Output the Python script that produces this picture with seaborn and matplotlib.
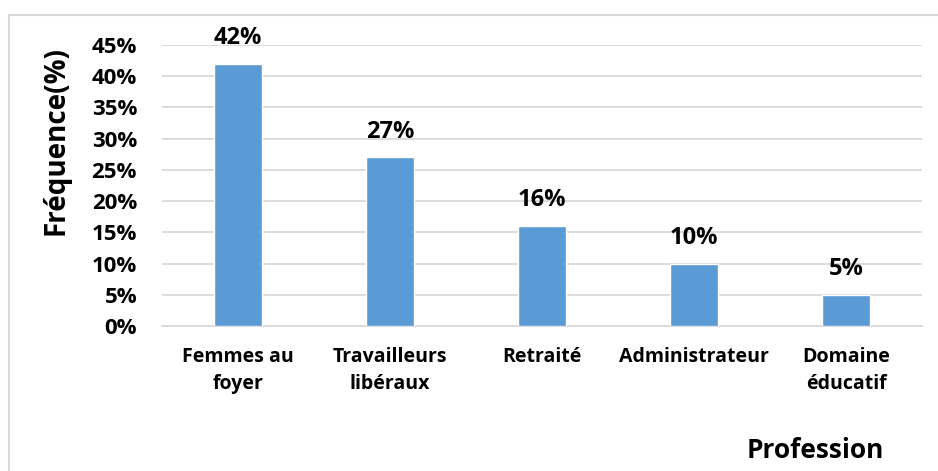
import pandas as pd
import matplotlib.pyplot as plt
import seaborn as sns
from matplotlib.patches import Rectangle

# data
professions = ['Femmes au\nfoyer', 'Travailleurs\nlibéraux', 'Retraité', 'Administrateur', 'Domaine\néducatif']
frequences = [42, 27, 16, 10, 5]
yticks = [0, 5, 10, 15, 20, 25, 30, 35, 40, 45]

sns.set_style("white")
plt.rcParams['font.family'] = ['Open Sans', 'DejaVu Sans']
plt.rcParams['text.color'] = 'black'
plt.rcParams['xtick.color'] = 'black'
plt.rcParams['ytick.color'] = 'black'
plt.rcParams['axes.labelcolor'] = 'black'

df = pd.DataFrame({'Profession': professions, 'Frequence': frequences})

fig = plt.figure(figsize=(9.38, 4.71), dpi=100)
ax = fig.add_axes([162 / 938, 1 - 326 / 471, (922 - 162) / 938, (326 - 45) / 471])

sns.barplot(data=df, x='Profession', y='Frequence', color='#5B9BD5', width=0.315,
            saturation=1, ax=ax, zorder=3)

ax.set_ylim(0, 45)
ax.set_yticks(yticks)
ax.set_yticklabels([f'{v}%' for v in yticks], fontsize=16, fontweight='bold')
ax.set_xticks(range(len(professions)))
ax.set_xticklabels(professions, fontsize=14, fontweight='bold', linespacing=1.45)
ax.tick_params(axis='both', length=0)
ax.tick_params(axis='x', pad=15)
ax.tick_params(axis='y', pad=18)
ax.grid(axis='y', color='#D9D9D9', linewidth=1.3, zorder=0)
for s in ['top', 'right', 'left']:
    ax.spines[s].set_visible(False)
ax.spines['bottom'].set_color('#D9D9D9')
ax.spines['bottom'].set_linewidth(1.3)

for i, v in enumerate(frequences):
    ax.text(i, v + 2.2, f'{v}%', ha='center', va='bottom', fontsize=17, fontweight='bold')

ax.set_xlabel('')
ax.set_ylabel('Fréquence(%)', fontsize=20, fontweight='bold')
ax.yaxis.set_label_coords(-0.12, 0.66)
fig.text(884 / 938, 1 - 458 / 471, 'Profession', ha='right', va='baseline',
         fontsize=19, fontweight='bold')

# chart border
fig.patches.append(Rectangle((9 / 938, -0.05), 1.1, 1 - 15 / 471 + 0.05,
                             transform=fig.transFigure, fill=False,
                             edgecolor='#D9D9D9', linewidth=1.5))

plt.savefig('out.png', dpi=100)
